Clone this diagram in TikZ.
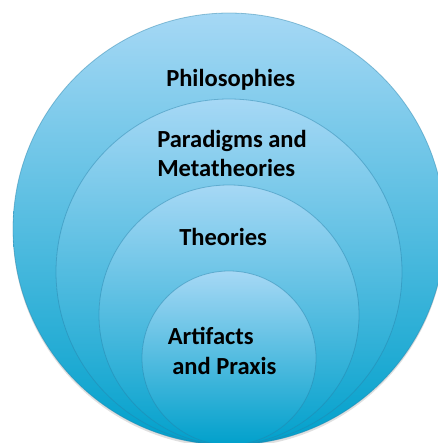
\documentclass[tikz,border=0pt]{standalone}
\usepackage{fontspec}
\setmainfont{Carlito}
\definecolor{toplight}{RGB}{166,216,245}
\definecolor{botdark}{RGB}{0,160,203}
\definecolor{rimline}{RGB}{40,130,170}
\tikzset{
  ring/.style={top color=toplight, bottom color=botdark, draw=rimline, draw opacity=0.45, line width=0.6pt},
  lbl/.style={anchor=base west, inner sep=0pt, font=\fontsize{18.4}{22}\selectfont\bfseries, text=black}
}
\begin{document}
\begin{tikzpicture}[x=0.75pt,y=-0.75pt]
\useasboundingbox (0,0) rectangle (438,443);
\clip (0,0) rectangle (438,443);
% soft shadow
\fill[black, opacity=0.12] (229,231.5) circle (216);
% circles
\shade[ring] (229,229) circle (216);
\shade[ring] (229,272) circle (173);
\shade[ring] (229,315) circle (130);
\shade[ring] (229,358) circle (87);
% labels
\node[lbl] (phil) at (166,86) {Philosophies};
\node[lbl] (para1) at (157,147) {Paradigms and};
\node[lbl] (para2) at (157,176) {Metatheories};
\node[lbl] (theo) at (179,245.5) {Theories};
\node[lbl] (art1) at (167.5,344) {Artifacts};
\node[lbl] (art2) at (172,374) {and Praxis};
\end{tikzpicture}
\end{document}
